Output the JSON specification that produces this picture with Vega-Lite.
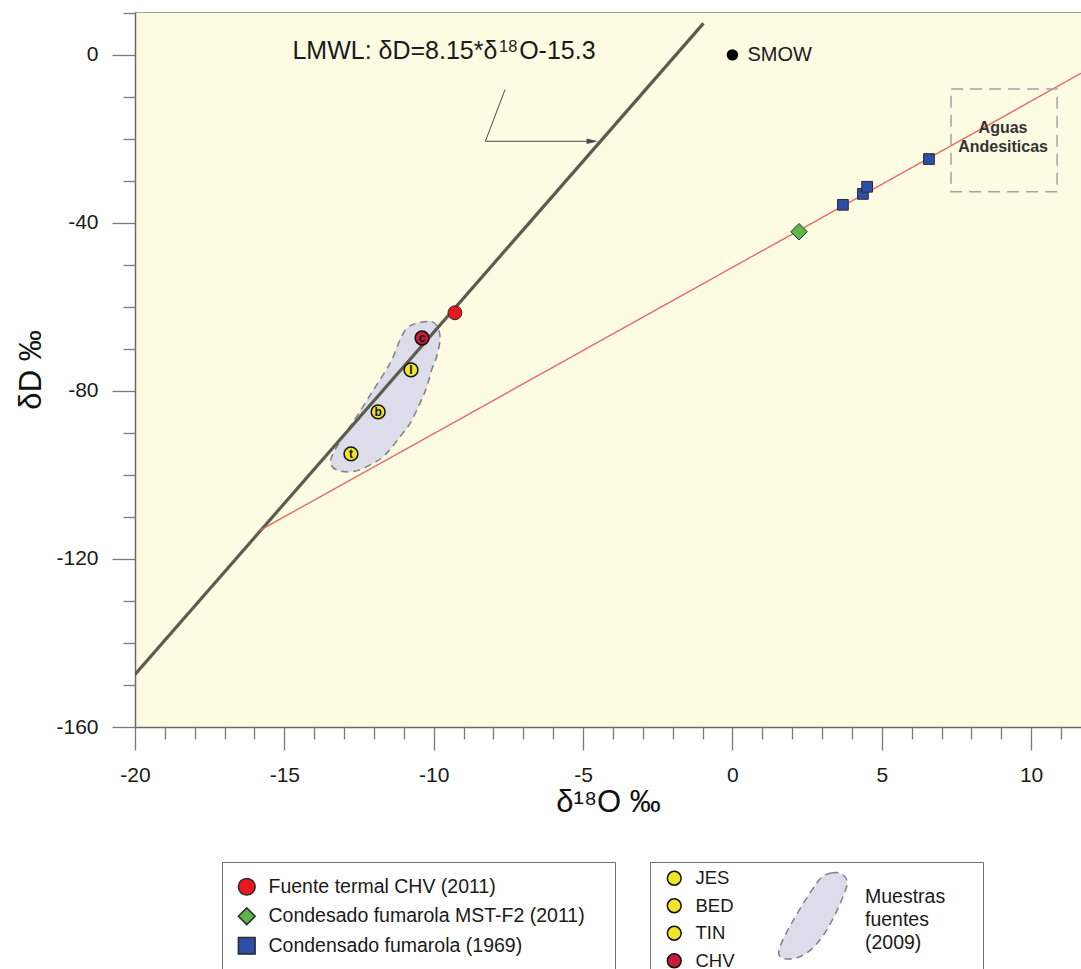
{
  "$schema": "https://vega.github.io/schema/vega-lite/v6.json",
  "width": 946,
  "height": 715,
  "autosize": {"type": "none"},
  "padding": {"left": 135, "top": 12, "right": 0, "bottom": 242},
  "background": "#ffffff",
  "config": {
    "font": "Liberation Sans",
    "view": {"fill": "#fefbe3", "stroke": "#a0a0a0", "strokeWidth": 1},
    "axis": {"grid": false, "domainColor": "#6a6a6a", "domainWidth": 1.5, "tickColor": "#7a7a7a", "tickWidth": 1.3, "labelColor": "#1a1a1a", "titleColor": "#111111", "labelFont": "Liberation Sans", "titleFont": "Liberation Sans", "titleFontWeight": "normal"}
  },
  "datasets": {
    "lmwl": [{"o": -20, "d": -147.5}, {"o": -0.97, "d": 7.5}],
    "mezcla": [{"o": -15.82, "d": -113.2}, {"o": 11.67, "d": -4.4}],
    "caja": [{"o": 7.32, "o2": 10.87, "d": -8.1, "d2": -32.6}],
    "flecha": [{"orden": 1, "o": -7.61, "d": -8.24}, {"orden": 2, "o": -8.27, "d": -20.57}, {"orden": 3, "o": -4.6, "d": -20.57}],
    "punta": [{"o": -4.69, "d": -20.57}],
    "blob": [
      {"orden": 1, "o": -10.57, "d": -63.9, "grupo": "Muestras fuentes (2009)"},
      {"orden": 2, "o": -10.07, "d": -63.5, "grupo": "Muestras fuentes (2009)"},
      {"orden": 3, "o": -9.85, "d": -65.1, "grupo": "Muestras fuentes (2009)"},
      {"orden": 4, "o": -9.79, "d": -67.9, "grupo": "Muestras fuentes (2009)"},
      {"orden": 5, "o": -9.9, "d": -71.8, "grupo": "Muestras fuentes (2009)"},
      {"orden": 6, "o": -10.07, "d": -75.0, "grupo": "Muestras fuentes (2009)"},
      {"orden": 7, "o": -10.23, "d": -79.0, "grupo": "Muestras fuentes (2009)"},
      {"orden": 8, "o": -10.46, "d": -82.9, "grupo": "Muestras fuentes (2009)"},
      {"orden": 9, "o": -10.79, "d": -87.7, "grupo": "Muestras fuentes (2009)"},
      {"orden": 10, "o": -11.13, "d": -90.9, "grupo": "Muestras fuentes (2009)"},
      {"orden": 11, "o": -11.57, "d": -94.8, "grupo": "Muestras fuentes (2009)"},
      {"orden": 12, "o": -12.02, "d": -97.2, "grupo": "Muestras fuentes (2009)"},
      {"orden": 13, "o": -12.69, "d": -99.2, "grupo": "Muestras fuentes (2009)"},
      {"orden": 14, "o": -13.25, "d": -98.8, "grupo": "Muestras fuentes (2009)"},
      {"orden": 15, "o": -13.45, "d": -97.2, "grupo": "Muestras fuentes (2009)"},
      {"orden": 16, "o": -13.36, "d": -94.8, "grupo": "Muestras fuentes (2009)"},
      {"orden": 17, "o": -13.03, "d": -90.9, "grupo": "Muestras fuentes (2009)"},
      {"orden": 18, "o": -12.58, "d": -86.1, "grupo": "Muestras fuentes (2009)"},
      {"orden": 19, "o": -12.02, "d": -79.8, "grupo": "Muestras fuentes (2009)"},
      {"orden": 20, "o": -11.46, "d": -73.4, "grupo": "Muestras fuentes (2009)"},
      {"orden": 21, "o": -11.13, "d": -67.9, "grupo": "Muestras fuentes (2009)"},
      {"orden": 22, "o": -10.9, "d": -65.1, "grupo": "Muestras fuentes (2009)"}
    ],
    "muestras": [
      {"serie": "Fuente termal CHV (2011)", "o": -9.29, "d": -61.4},
      {"serie": "Condesado fumarola MST-F2 (2011)", "o": 2.23, "d": -42.1},
      {"serie": "Condensado fumarola (1969)", "o": 3.7, "d": -35.7},
      {"serie": "Condensado fumarola (1969)", "o": 4.37, "d": -33.1},
      {"serie": "Condensado fumarola (1969)", "o": 4.51, "d": -31.4},
      {"serie": "Condensado fumarola (1969)", "o": 6.58, "d": -24.8}
    ],
    "fuentes": [
      {"fuente": "JES", "letra": "I", "o": -10.76, "d": -75.0},
      {"fuente": "BED", "letra": "b", "o": -11.86, "d": -85.0},
      {"fuente": "TIN", "letra": "t", "o": -12.77, "d": -95.0},
      {"fuente": "CHV", "letra": "c", "o": -10.39, "d": -67.4}
    ],
    "smow": [{"o": 0, "d": 0, "texto": "SMOW"}],
    "textoLMWL": [{"o": -14.73, "d": -1.0, "texto": "LMWL: δD=8.15*δ"}, {"o": -7.14, "d": -1.0, "texto": "O-15.3"}],
    "textoSup": [{"o": -7.81, "d": 0.6, "texto": "18"}],
    "textoAguas": [{"o": 9.06, "d": -17.4, "texto": "Aguas"}, {"o": 9.06, "d": -21.9, "texto": "Andesiticas"}]
  },
  "resolve": {"axis": {"x": "independent", "y": "independent"}},
  "layer": [
    {
      "encoding": {
        "x": {"field": "o", "type": "quantitative", "scale": {"domain": [-20, 11.67], "nice": false, "zero": false},
          "axis": {"orient": "bottom", "values": [-20, -15, -10, -5, 0, 5, 10], "labelExpr": "toString(datum.value)", "tickSize": 23, "labelPadding": 14, "labelFontSize": 21, "labelFlush": false, "labelOverlap": false, "title": "δ¹⁸O ‰", "titleFontSize": 31, "titlePadding": 2}},
        "y": {"field": "d", "type": "quantitative", "scale": {"domain": [-160, 10.2], "nice": false, "zero": false},
          "axis": {"orient": "left", "values": [-160, -120, -80, -40, 0], "labelExpr": "toString(datum.value)", "tickSize": 23, "labelPadding": 14, "labelFontSize": 21, "labelOverlap": false, "title": "δD ‰", "titleFontSize": 31, "titlePadding": 8}}
      },
      "layer": [
        {
          "data": {"name": "blob"},
          "mark": {"type": "line", "interpolate": "cardinal-closed", "fill": "#dcdcea", "stroke": "#7f7f86", "strokeWidth": 1.5},
          "encoding": {
            "order": {"field": "orden", "type": "quantitative"},
            "strokeDash": {"field": "grupo", "type": "nominal", "scale": {"range": [[7, 5]]},
              "legend": {"orient": "none", "legendX": 633, "legendY": 860, "title": null, "padding": 0,
                "symbolType": "M0.45,-1 C0.7,-1.05 0.9,-0.9 0.78,-0.6 C0.65,-0.25 0.4,0.3 0.15,0.6 C-0.05,0.85 -0.3,1.02 -0.6,1 C-0.85,0.98 -0.8,0.8 -0.65,0.5 C-0.45,0.1 -0.15,-0.4 0.1,-0.75 C0.2,-0.9 0.3,-0.98 0.45,-1 Z",
                "symbolSize": 7400, "labelExpr": "''",
                "encode": {"symbols": {"update": {"fill": {"value": "#dcdcea"}, "stroke": {"value": "#7f7f86"}, "strokeWidth": {"value": 1.5}, "strokeDash": {"value": [7, 5]}}}}}}
          }
        },
        {
          "data": {"name": "lmwl"},
          "mark": {"type": "line", "color": "#5b5b4e", "strokeWidth": 3.2, "clip": true}
        },
        {
          "data": {"name": "mezcla"},
          "mark": {"type": "line", "color": "#e8615b", "strokeWidth": 1.3, "clip": true}
        },
        {
          "data": {"name": "caja"},
          "mark": {"type": "rect", "fillOpacity": 0, "stroke": "#a3a3a3", "strokeDash": [12, 7], "strokeWidth": 1.5},
          "encoding": {"x2": {"field": "o2"}, "y2": {"field": "d2"}}
        },
        {
          "data": {"name": "flecha"},
          "mark": {"type": "line", "color": "#4a4a4a", "strokeWidth": 1},
          "encoding": {"order": {"field": "orden", "type": "quantitative"}}
        },
        {
          "data": {"name": "punta"},
          "mark": {"type": "point", "shape": "M-1,-0.5L1,0L-1,0.5Z", "filled": true, "color": "#4a4a4a", "size": 130, "opacity": 1}
        },
        {
          "data": {"name": "muestras"},
          "mark": {"type": "point", "filled": true, "opacity": 1, "stroke": "#2a2a2a", "strokeWidth": 1},
          "encoding": {
            "color": {"field": "serie", "type": "nominal",
              "scale": {"domain": ["Fuente termal CHV (2011)", "Condesado fumarola MST-F2 (2011)", "Condensado fumarola (1969)"], "range": ["#e8191e", "#5cb848", "#2c4ea6"]},
              "legend": {"orient": "none", "legendX": 87, "legendY": 850, "title": "\u2800", "titleOrient": "right", "titlePadding": 0, "titleFontSize": 19.5, "padding": 15, "strokeColor": "#707070", "fillColor": "#ffffff", "symbolSize": 280, "labelFontSize": 19.5, "labelColor": "#1a1a1a", "rowPadding": 5.5, "labelOffset": 12, "labelLimit": 500,
                "encode": {"symbols": {"update": {"stroke": {"value": "#333333"}, "strokeWidth": {"value": 1}}}}}},
            "shape": {"field": "serie", "type": "nominal",
              "scale": {"domain": ["Fuente termal CHV (2011)", "Condesado fumarola MST-F2 (2011)", "Condensado fumarola (1969)"], "range": ["circle", "diamond", "square"]},
              "legend": {"orient": "none", "legendX": 87, "legendY": 850, "title": "\u2800", "titleOrient": "right", "titlePadding": 0, "titleFontSize": 19.5, "padding": 15, "strokeColor": "#707070", "fillColor": "#ffffff", "symbolSize": 280, "labelFontSize": 19.5, "labelColor": "#1a1a1a", "rowPadding": 5.5, "labelOffset": 12, "labelLimit": 500,
                "encode": {"symbols": {"update": {"stroke": {"value": "#333333"}, "strokeWidth": {"value": 1}}}}}},
            "size": {"field": "serie", "type": "nominal",
              "scale": {"domain": ["Condensado fumarola (1969)", "Fuente termal CHV (2011)", "Condesado fumarola MST-F2 (2011)"], "range": [115, 270]},
              "legend": null}
          }
        },
        {
          "data": {"name": "fuentes"},
          "mark": {"type": "point", "shape": "circle", "filled": true, "opacity": 1, "stroke": "#111111", "strokeWidth": 1.5, "size": 190},
          "encoding": {
            "fill": {"field": "fuente", "type": "nominal",
              "scale": {"domain": ["JES", "BED", "TIN", "CHV"], "range": ["#f0e52a", "#f0e52a", "#f0e52a", "#c41e3a"]},
              "legend": {"orient": "none", "legendX": 515, "legendY": 850,
                "title": ["Muestras\u2800\u2800", "fuentes", "(2009)"],
                "titleOrient": "right", "titlePadding": 130, "titleFontSize": 19.5, "titleFontWeight": "normal", "titleColor": "#1a1a1a", "titleLineHeight": 23, "titleAnchor": "middle",
                "padding": 7, "symbolOffset": 8, "strokeColor": "#707070", "symbolSize": 190, "symbolType": "circle", "labelFontSize": 18.5, "labelColor": "#1a1a1a", "rowPadding": 6.5, "labelOffset": 12,
                "encode": {"symbols": {"update": {"stroke": {"value": "#111111"}, "strokeWidth": {"value": 1.5}}}}}}
          }
        },
        {
          "data": {"name": "fuentes"},
          "mark": {"type": "text", "fontSize": 12, "fontWeight": "bold", "color": "#111111", "align": "center", "baseline": "middle"},
          "encoding": {"text": {"field": "letra"}}
        },
        {
          "data": {"name": "smow"},
          "mark": {"type": "point", "shape": "circle", "filled": true, "color": "#000000", "size": 130, "opacity": 1}
        },
        {
          "data": {"name": "smow"},
          "mark": {"type": "text", "fontSize": 20, "color": "#1a1a1a", "align": "left", "baseline": "middle", "dx": 15},
          "encoding": {"text": {"field": "texto"}}
        },
        {
          "data": {"name": "textoLMWL"},
          "mark": {"type": "text", "fontSize": 25, "color": "#1a1a1a", "align": "left", "baseline": "alphabetic"},
          "encoding": {"text": {"field": "texto"}}
        },
        {
          "data": {"name": "textoSup"},
          "mark": {"type": "text", "fontSize": 16.5, "color": "#1a1a1a", "align": "left", "baseline": "alphabetic"},
          "encoding": {"text": {"field": "texto"}}
        },
        {
          "data": {"name": "textoAguas"},
          "mark": {"type": "text", "fontSize": 16, "fontWeight": "bold", "color": "#333333", "align": "center", "baseline": "middle"},
          "encoding": {"text": {"field": "texto"}}
        }
      ]
    },
    {
      "data": {"name": "lmwl"},
      "mark": {"type": "point", "opacity": 0},
      "encoding": {
        "x": {"field": "o", "type": "quantitative", "scale": {"domain": [-20, 11.67], "nice": false, "zero": false},
          "axis": {"orient": "bottom", "values": [-19, -18, -17, -16, -14, -13, -12, -11, -9, -8, -7, -6, -4, -3, -2, -1, 1, 2, 3, 4, 6, 7, 8, 9, 11], "tickSize": 12, "labels": false, "domain": false, "title": null}},
        "y": {"field": "d", "type": "quantitative", "scale": {"domain": [-160, 10.2], "nice": false, "zero": false},
          "axis": {"orient": "left", "values": [-150, -140, -130, -110, -100, -90, -70, -60, -50, -30, -20, -10, 10], "tickSize": 12, "labels": false, "domain": false, "title": null}}
      }
    }
  ]
}
